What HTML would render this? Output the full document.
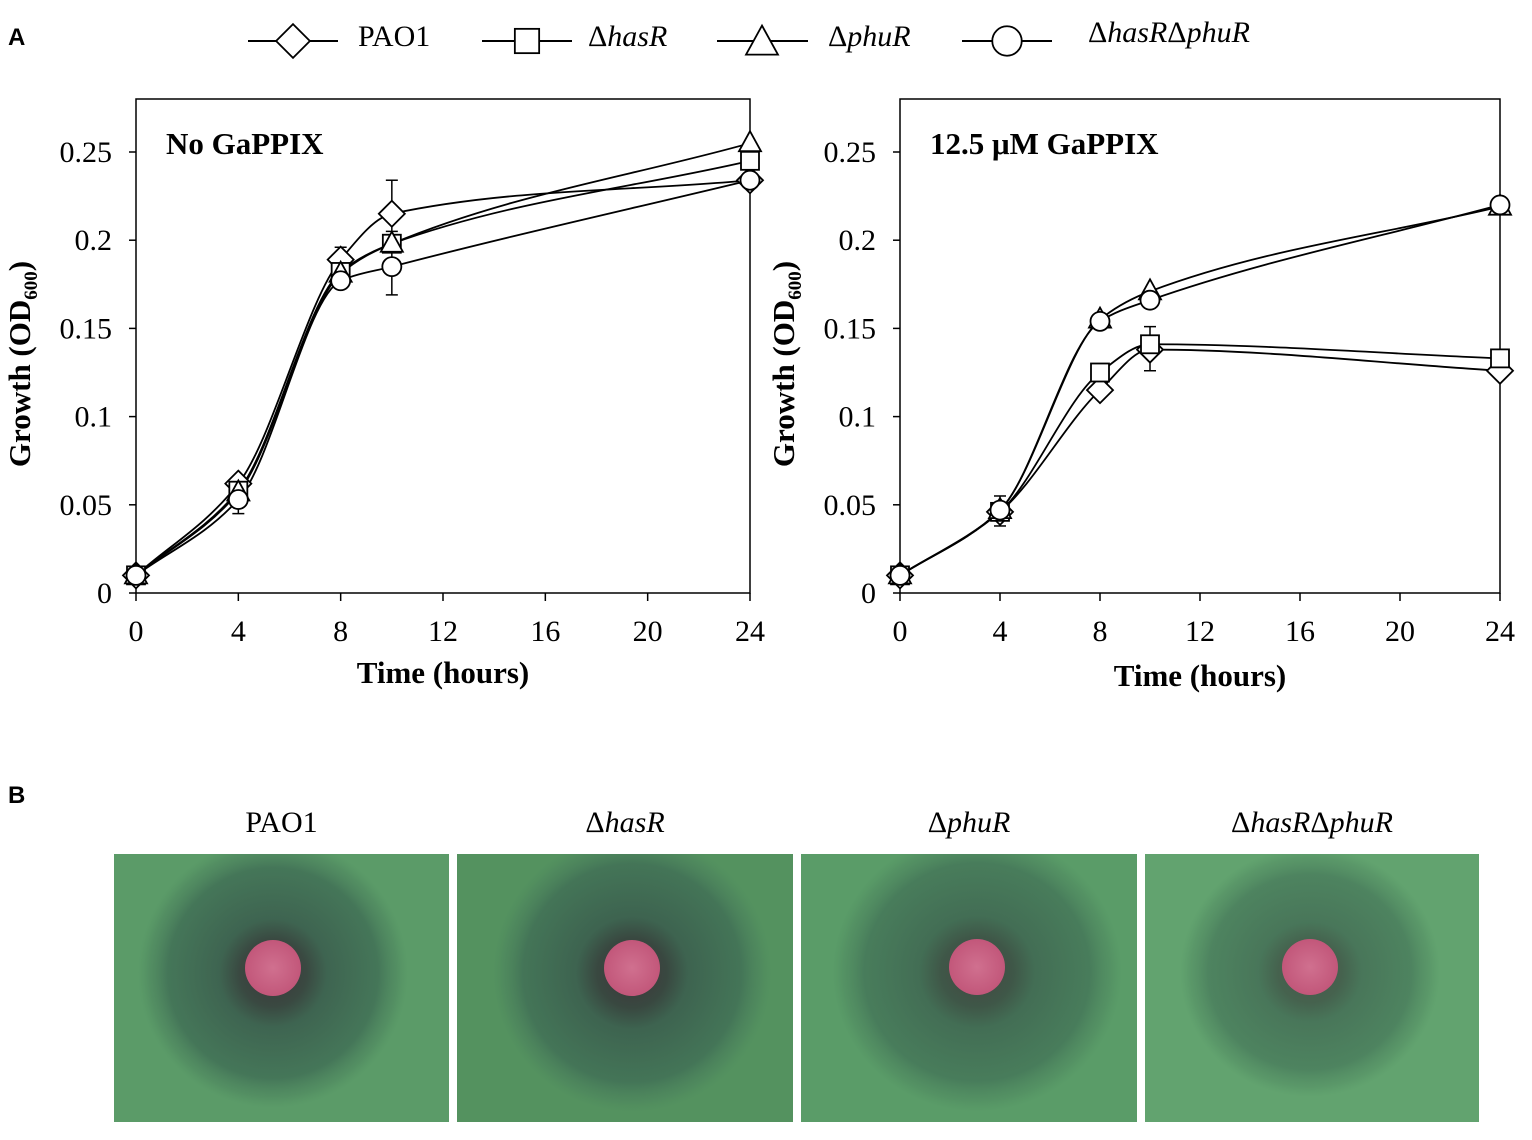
<!DOCTYPE html><html><head><meta charset="utf-8"><style>
html,body{margin:0;padding:0;background:#fff}
svg{display:block;font-family:"Liberation Serif",serif}
</style></head><body>
<svg id="s" width="1532" height="1140" xmlns="http://www.w3.org/2000/svg">
<defs>
<radialGradient id="halo" cx="0.5" cy="0.5" r="0.5">
<stop offset="0" stop-color="#3a2a35"/><stop offset="0.25" stop-color="#36403d"/><stop offset="0.4" stop-color="#3b5e4e"/><stop offset="0.78" stop-color="#417056" stop-opacity="0.95"/><stop offset="0.92" stop-color="#4a805c" stop-opacity="0.5"/><stop offset="1" stop-color="#4d8a5e" stop-opacity="0"/>
</radialGradient>
<radialGradient id="disc" cx="0.5" cy="0.5" r="0.5">
<stop offset="0" stop-color="#d0708f"/><stop offset="1" stop-color="#c2577a"/>
</radialGradient>
</defs>
<text x="8" y="45" font-family="Liberation Sans,sans-serif" font-weight="bold" font-size="24">A</text>
<text x="8" y="803" font-family="Liberation Sans,sans-serif" font-weight="bold" font-size="24">B</text>
<g id="g"></g>
</svg>
<script>
const g=document.getElementById('g');let h='';
function marker(type,x,y,s){s=s||1;
 if(type==0)return `<polygon points="${x},${y-13*s} ${x+13*s},${y} ${x},${y+13*s} ${x-13*s},${y}" fill="#fff" stroke="#000" stroke-width="1.8"/>`;
 if(type==1)return `<rect x="${x-9*s}" y="${y-9*s}" width="${18*s}" height="${18*s}" fill="#fff" stroke="#000" stroke-width="1.8"/>`;
 if(type==2)return `<polygon points="${x},${y-12*s} ${x+11*s},${y+8*s} ${x-11*s},${y+8*s}" fill="#fff" stroke="#000" stroke-width="1.8"/>`;
 return `<circle cx="${x}" cy="${y}" r="${9.5*s}" fill="#fff" stroke="#000" stroke-width="1.8"/>`;
}
function path(pts){
 const n=pts.length,d=[],m=[];
 for(let i=0;i<n-1;i++)d.push((pts[i+1][1]-pts[i][1])/(pts[i+1][0]-pts[i][0]));
 m[0]=d[0];m[n-1]=d[n-2];
 for(let i=1;i<n-1;i++){if(d[i-1]*d[i]<=0)m[i]=0;else{const w1=2*(pts[i+1][0]-pts[i][0])+(pts[i][0]-pts[i-1][0]),w2=(pts[i+1][0]-pts[i][0])+2*(pts[i][0]-pts[i-1][0]);m[i]=(w1+w2)/(w1/d[i-1]+w2/d[i]);}}
 let s=`M${pts[0][0]},${pts[0][1]}`;
 for(let i=0;i<n-1;i++){const dx=(pts[i+1][0]-pts[i][0])/3;
  s+=` C${pts[i][0]+dx},${pts[i][1]+m[i]*dx} ${pts[i+1][0]-dx},${pts[i+1][1]-m[i+1]*dx} ${pts[i+1][0]},${pts[i+1][1]}`;}
 return `<path d="${s}" fill="none" stroke="#000" stroke-width="1.8"/>`;
}
const T=[0,4,8,10,24];
function plot(x0,x1,title,data,errs,xt){
 const y0=593,top=99;const X=t=>x0+t*(x1-x0)/24,Y=v=>y0-v*1764;
 h+=`<rect x="${x0}" y="${top}" width="${x1-x0}" height="${y0-top}" fill="none" stroke="#000" stroke-width="1.5"/>`;
 [0,0.05,0.1,0.15,0.2,0.25].forEach((v,i)=>{const y=Y(v);h+=`<line x1="${x0-7}" x2="${x0}" y1="${y}" y2="${y}" stroke="#000" stroke-width="1.5"/><text x="${x0-24}" y="${y+10}" font-size="30" text-anchor="end">${['0','0.05','0.1','0.15','0.2','0.25'][i]}</text>`;});
 [0,4,8,12,16,20,24].forEach(t=>{const x=X(t);h+=`<line x1="${x}" x2="${x}" y1="${y0}" y2="${y0+8}" stroke="#000" stroke-width="1.5"/><text x="${x}" y="${y0+48}" font-size="30" text-anchor="middle">${t}</text>`;});
 h+=`<text x="${(x0+x1)/2}" y="${xt}" font-size="31" font-weight="bold" text-anchor="middle">Time (hours)</text>`;
 h+=`<text transform="translate(${x0-106},${(y0+top)/2+18}) rotate(-90)" font-size="31" font-weight="bold" text-anchor="middle">Growth (OD<tspan font-size="19" dy="7">600</tspan><tspan dy="-7">)</tspan></text>`;
 h+=`<text x="${x0+30}" y="154" font-size="31" font-weight="bold">${title}</text>`;
 errs.forEach(e=>{const x=X(e[0]);h+=`<line x1="${x}" x2="${x}" y1="${Y(e[1])}" y2="${Y(e[2])}" stroke="#000" stroke-width="1.5"/><line x1="${x-6}" x2="${x+6}" y1="${Y(e[1])}" y2="${Y(e[1])}" stroke="#000" stroke-width="1.5"/><line x1="${x-6}" x2="${x+6}" y1="${Y(e[2])}" y2="${Y(e[2])}" stroke="#000" stroke-width="1.5"/>`;});
 data.forEach(s=>{h+=path(s.map((v,i)=>[X(T[i]),Y(v)]));});
 data.forEach((s,k)=>{s.forEach((v,i)=>{h+=marker(k,X(T[i]),Y(v));});});
}
plot(136,750,'No GaPPIX',[[0.01,0.062,0.189,0.215,0.234],[0.01,0.058,0.182,0.198,0.245],[0.01,0.057,0.181,0.198,0.255],[0.01,0.053,0.177,0.185,0.234]],
 [[4,0.045,0.062],[8,0.19,0.196],[10,0.205,0.234],[10,0.169,0.2]],683);
plot(900,1500,'12.5 μM GaPPIX',[[0.01,0.046,0.115,0.138,0.126],[0.01,0.046,0.125,0.141,0.133],[0.01,0.047,0.155,0.171,0.219],[0.01,0.047,0.154,0.166,0.220]],
 [[4,0.038,0.055],[10,0.126,0.151]],686);
[[248,338,293,358,'PAO1'],[482,572,527,588,'Δ<tspan font-style="italic">hasR</tspan>'],[717,808,762,828,'Δ<tspan font-style="italic">phuR</tspan>'],[962,1052,1007,1088,'Δ<tspan font-style="italic">hasR</tspan>Δ<tspan font-style="italic">phuR</tspan>']].forEach((l,k)=>{
 const y=41;h+=`<line x1="${l[0]}" x2="${l[1]}" y1="${y}" y2="${y}" stroke="#000" stroke-width="2"/>`;
 h+=marker(k,l[2],k==2?y+2:y,[1.3,1.35,1.45,1.55][k]);
 h+=`<text x="${l[3]}" y="${k==3?42:46}" font-size="30">${l[4]}</text>`;
});
const P=[[114,449,'PAO1'],[457,793,'Δ<tspan font-style="italic">hasR</tspan>'],[801,1137,'Δ<tspan font-style="italic">phuR</tspan>'],[1145,1479,'Δ<tspan font-style="italic">hasR</tspan>Δ<tspan font-style="italic">phuR</tspan>']];
P.forEach((p,i)=>{const cx=[273,632,977,1310][i],cy=[968,968,967,967][i];
 h+=`<text x="${(p[0]+p[1])/2}" y="832" font-size="30" text-anchor="middle">${p[2]}</text>`;
 h+=`<rect x="${p[0]}" y="854" width="${p[1]-p[0]}" height="268" fill="${['#5b9b68','#54925f','#5a9c68','#62a36f'][i]}"/>`;
 h+=`<clipPath id="c${i}"><rect x="${p[0]}" y="854" width="${p[1]-p[0]}" height="268"/></clipPath>`;
 h+=`<ellipse clip-path="url(#c${i})" cx="${cx}" cy="${cy+5}" rx="${[135,140,145,130][i]}" ry="${[135,140,140,125][i]}" fill="url(#halo)" opacity="${[0.9,0.9,0.75,0.65][i]}"/>`;
 h+=`<circle cx="${cx}" cy="${cy}" r="28" fill="url(#disc)"/>`;
});
g.innerHTML=h;
</script>
</body></html>
